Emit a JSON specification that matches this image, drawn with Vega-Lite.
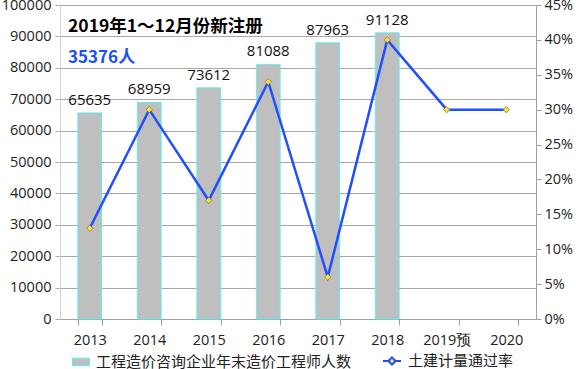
{
  "$schema": "https://vega.github.io/schema/vega-lite/v6.json",
  "width": 476,
  "height": 314,
  "autosize": "none",
  "padding": {"left": 60, "top": 5, "right": 40, "bottom": 50},
  "background": "white",
  "config": {
    "font": "Noto Sans CJK SC",
    "view": {"stroke": null},
    "axis": {"labelFont": "Open Sans", "labelColor": "#222222", "labelFontSize": 14.5, "titleFontSize": 14, "labelOverlap": false}
  },
  "title": {
    "text": "2019年1～12月份新注册",
    "subtitle": "35376人",
    "anchor": "start",
    "frame": "group",
    "orient": "top",
    "offset": -69,
    "dx": 8,
    "fontSize": 17.5,
    "fontWeight": "bold",
    "color": "#000000",
    "subtitleFontSize": 17,
    "subtitleFontWeight": "bold",
    "subtitleColor": "#1a4fff",
    "subtitlePadding": 15,
    "font": "Noto Sans CJK SC",
    "subtitleFont": "Noto Sans CJK SC"
  },
  "data": {
    "values": [
      {"year": "2013", "count": 65635, "rate": 0.13},
      {"year": "2014", "count": 68959, "rate": 0.30},
      {"year": "2015", "count": 73612, "rate": 0.17},
      {"year": "2016", "count": 81088, "rate": 0.34},
      {"year": "2017", "count": 87963, "rate": 0.06},
      {"year": "2018", "count": 91128, "rate": 0.40},
      {"year": "2019预", "count": null, "rate": 0.30},
      {"year": "2020", "count": null, "rate": 0.30}
    ]
  },
  "encoding": {
    "x": {
      "field": "year", "type": "nominal", "sort": null,
      "scale": {"paddingInner": 0.6, "paddingOuter": 0.3},
      "axis": {"title": null, "labelAngle": 0, "labelPadding": 8, "labelFont": "Open Sans", "domainColor": "#a0a0a0", "tickColor": "#a0a0a0", "tickBand": "extent", "tickSize": 6, "grid": false}
    }
  },
  "layer": [
    {
      "encoding": {
        "y": {
          "field": "count", "type": "quantitative",
          "scale": {"domain": [0, 100000]},
          "axis": {"title": null, "orient": "left", "values": [0,10000,20000,30000,40000,50000,60000,70000,80000,90000,100000], "format": "d", "grid": true, "gridColor": "#a8a8a8", "domainColor": "#d0d0d0", "tickColor": "#a8a8a8", "tickSize": 5, "labelPadding": 4}
        }
      },
      "layer": [
        {
          "mark": {"type": "bar", "stroke": "#5ff0f0", "strokeWidth": 1},
          "encoding": {
            "fill": {"datum": "工程造价咨询企业年末造价工程师人数", "scale": {"range": ["#bfbfbf"]}, "legend": {"title": null, "orient": "bottom", "offset": -6, "padding": 12, "labelLimit": 0, "symbolType": "M-1,-0.45L1,-0.45L1,0.45L-1,0.45Z", "symbolSize": 289, "symbolStrokeColor": "#5ff0f0", "symbolStrokeWidth": 1, "labelOffset": 6, "labelFontSize": 15, "labelColor": "#222222", "labelFont": "Noto Sans CJK SC"}}
          }
        },
        {
          "mark": {"type": "text", "baseline": "bottom", "dy": -5, "fontSize": 15, "color": "#111111", "font": "Open Sans"},
          "encoding": {
            "text": {"field": "count", "type": "quantitative", "format": "d"}
          }
        }
      ]
    },
    {
      "encoding": {
        "y": {
          "field": "rate", "type": "quantitative",
          "scale": {"domain": [0, 0.45]},
          "axis": {"title": null, "orient": "right", "format": ".0%", "values": [0,0.05,0.1,0.15,0.2,0.25,0.3,0.35,0.4,0.45], "grid": false, "domainColor": "#a0a0a0", "tickColor": "#a0a0a0", "tickSize": 5, "labelPadding": 3}
        }
      },
      "layer": [
        {
          "mark": {"type": "line", "strokeWidth": 2.5},
          "encoding": {
            "stroke": {"datum": "土建计量通过率", "scale": {"range": ["#1f4fff"]}, "legend": {"title": null, "orient": "bottom", "offset": -6, "padding": 10, "labelLimit": 0, "symbolType": "M-1,0L-0.4,0M0.4,0L1,0M0,-0.4L0.4,0L0,0.4L-0.4,0Z", "symbolSize": 324, "symbolFillColor": "#ffe040", "symbolStrokeWidth": 2, "labelOffset": 6, "labelFontSize": 15, "labelColor": "#222222", "labelFont": "Noto Sans CJK SC"}}
          }
        },
        {
          "mark": {"type": "point", "shape": "diamond", "filled": true, "fill": "#ffe040", "stroke": "#8a7a30", "strokeWidth": 0.8, "size": 40, "opacity": 1}
        }
      ]
    }
  ],
  "resolve": {"scale": {"y": "independent"}}
}
